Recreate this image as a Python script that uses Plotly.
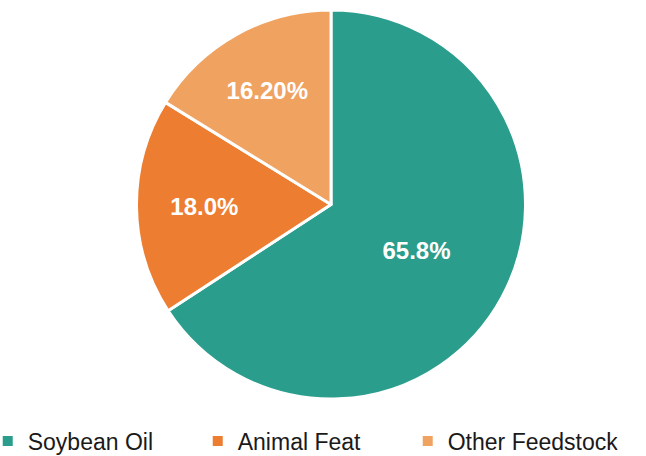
import plotly.graph_objects as go

categories = ["Soybean Oil", "Animal Feat", "Other Feedstock"]
values = [65.8, 18.0, 16.2]
text_labels = ["65.8%", "18.0%", "16.20%"]
colors = ["#2A9D8C", "#ED7D31", "#F0A260"]

W, H = 646, 456

fig = go.Figure(go.Pie(
    labels=categories,
    values=values,
    text=text_labels,
    textinfo="text",
    textposition="inside",
    insidetextorientation="horizontal",
    textfont=dict(family="Liberation Sans, Arial", size=24, color="white", weight="bold"),
    marker=dict(colors=colors, line=dict(color="white", width=3)),
    sort=False,
    direction="clockwise",
    rotation=0,
    hoverinfo="label+percent",
    domain=dict(x=[136 / W, 526 / W], y=[0, 1]),
))

fig.update_layout(
    width=W,
    height=H,
    margin=dict(l=0, r=0, t=10, b=57, autoexpand=False),
    paper_bgcolor="white",
    plot_bgcolor="white",
    showlegend=True,
    legend=dict(
        orientation="h",
        x=-0.019,
        xanchor="left",
        y=-0.108,
        yanchor="middle",
        entrywidth=165,
        entrywidthmode="pixels",
        font=dict(family="Liberation Sans, Arial", size=23, color="#1A1A1A"),
        itemsizing="constant",
    ),
)

fig.write_html("out.html")
